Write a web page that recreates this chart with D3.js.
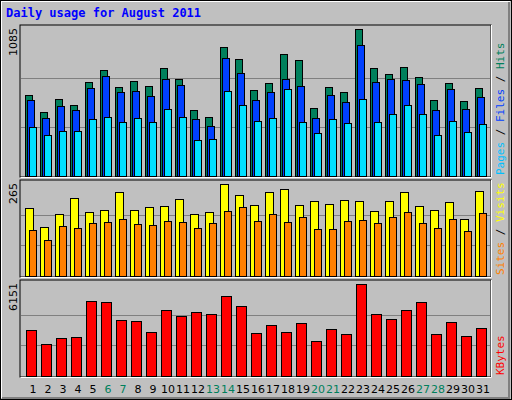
<!DOCTYPE html><html><head><script src="https://cdn.jsdelivr.net/npm/d3@7"></script>
<style>body{margin:0;background:#fff}</style></head><body><svg id="c" width="512" height="400"></svg>
<script>
const days=d3.range(1,32);
const weekend=[6,7,13,14,20,21,27,28];
const hits=[597,471,567,523,693,782,656,700,663,797,715,486,434,952,863,634,686,900,856,501,656,619,1085,797,752,804,730,560,686,552,649];
const files=[560,427,515,486,649,737,619,626,589,715,671,419,367,870,760,560,619,715,663,427,597,545,967,693,715,708,678,486,641,493,582];
const pages=[360,301,330,330,419,434,397,427,397,493,434,264,271,626,523,404,427,641,397,316,419,390,567,397,456,523,456,301,404,323,382];
const visits=[196,141,178,225,184,190,242,190,199,201,222,178,184,265,233,204,242,251,204,216,207,219,216,187,216,242,201,190,213,164,245];
const sites=[132,103,144,138,152,155,164,149,146,158,155,138,152,187,199,158,178,155,170,135,135,158,161,152,170,184,152,138,164,129,181];
const kbytes=[3065,2170,2573,2640,4988,4921,3713,3646,2975,4384,3982,4250,4116,5324,4653,2908,3378,2975,3512,2371,3109,2841,6151,4116,3780,4384,4921,2841,3579,2707,3176];

const svg=d3.select("#c");
svg.append("rect").attr("x",0).attr("y",0).attr("width",512).attr("height",400).attr("fill","#c0c0c0");
svg.append("path").attr("d","M1,398V1H510").attr("stroke","#fff").attr("fill","none").attr("stroke-width",2);
svg.append("path").attr("d","M2,398H509V2").attr("stroke","#808080").attr("fill","none").attr("stroke-width",2);
svg.append("rect").attr("x",0.5).attr("y",0.5).attr("width",511).attr("height",399).attr("fill","none").attr("stroke","#000");
svg.append("text").attr("x",6).attr("y",17).text("Daily usage for August 2011")
 .attr("font-family","DejaVu Sans Mono").attr("font-weight","bold").attr("font-size",12).attr("fill","#0000ff");

const x=d3.scaleLinear().domain([1,31]).range([25,475]);
const font="DejaVu Sans Mono";
function panel(y0,y1,max,series,maxLabel,labels){
  svg.append("rect").attr("x",20).attr("y",y0).attr("width",471).attr("height",y1-y0).attr("fill","#c0c0c0").attr("stroke","#000");
  svg.append("path").attr("d",`M20.5,${y1+0.5}H491.5V${y0}`).attr("stroke","#fff").attr("fill","none");
  const y=d3.scaleLinear().domain([0,max]).range([y1-1,y0+4]);
  [1/3,2/3].forEach(f=>svg.append("line").attr("x1",21).attr("x2",490).attr("y1",Math.round(y(max*f))+0.5).attr("y2",Math.round(y(max*f))+0.5).attr("stroke","#808080"));
  series.forEach(s=>{
    svg.append("g").selectAll("rect").data(s.data).join("rect")
     .attr("x",(d,i)=>x(days[i])+s.off+0.5).attr("y",d=>Math.round(y(d))+0.5)
     .attr("width",s.w).attr("height",d=>y1-1-Math.round(y(d))).attr("fill",s.color).attr("stroke","#000");
  });
  svg.append("text").attr("transform",`translate(17,${y0+3}) rotate(-90)`).attr("text-anchor","end")
   .attr("font-family","DejaVu Sans").attr("font-size",11).text(maxLabel);
  const t=svg.append("text").attr("transform",`translate(504,${y1-2}) rotate(-90)`)
   .attr("font-family",font).attr("font-size",11);
  labels.forEach((l,i)=>{ if(i) t.append("tspan").attr("fill","#000").text(" / "); t.append("tspan").attr("fill",l[1]).text(l[0]); });
}
panel(25,177,1085,[{data:hits,off:0,w:7,color:"#00805c"},{data:files,off:2,w:7,color:"#0040ff"},{data:pages,off:4,w:7,color:"#00e0ff"}],"1085",
  [["Pages","#00c0ff"],["Files","#0040ff"],["Hits","#00805c"]]);
panel(180,277,265,[{data:visits,off:0,w:8,color:"#ffff00"},{data:sites,off:4,w:7,color:"#ff8000"}],"265",
  [["Sites","#ff8000"],["Visits","#ffff00"]]);
panel(280,377,6151,[{data:kbytes,off:1,w:10,color:"#ff0000"}],"6151",[["KBytes","#ff0000"]]);

svg.append("g").selectAll("text").data(days).join("text")
 .attr("x",d=>x(d)+8).attr("y",393).attr("text-anchor","middle")
 .attr("font-family","DejaVu Sans").attr("font-size",11)
 .attr("fill",d=>weekend.includes(d)?"#00805c":"#000").text(d=>d);
</script></body></html>
